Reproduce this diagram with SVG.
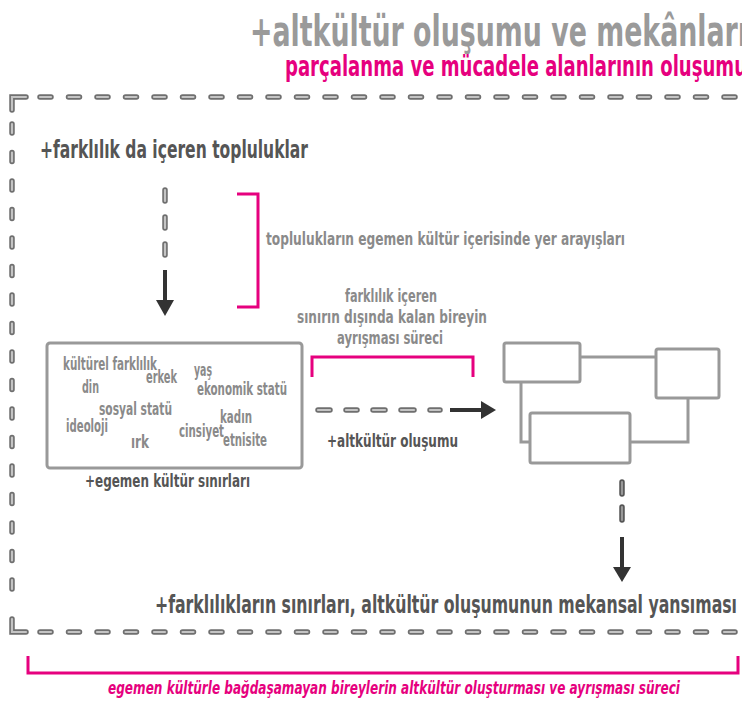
<svg xmlns="http://www.w3.org/2000/svg" width="742" height="705" viewBox="0 0 742 705">
<style>
text{font-family:"DejaVu Sans Condensed","Liberation Sans Narrow","Liberation Sans",sans-serif;font-weight:bold;font-stretch:condensed}
.g{fill:#9a9a9a}
.w{fill:#8a8a8a}
.d{fill:#555}
.p{fill:#e6007e}
.po{fill:none;stroke:#6f6f6f;stroke-width:5.5;stroke-linecap:round}
.pi{fill:none;stroke:#c4c4c4;stroke-width:2.2;stroke-linecap:round}
.pk{fill:none;stroke:#e6007e;stroke-width:3}
.box{fill:none;stroke:#999;stroke-width:3}
.arr{stroke:#333;stroke-width:4;fill:none}
.head{fill:#333}
</style>
<rect width="742" height="705" fill="#fff"/>
<g id="title">
<text class="g" x="250" y="46" font-size="42" textLength="497" lengthAdjust="spacingAndGlyphs">+altkültür oluşumu ve mekânları</text>
<text class="p" x="285" y="76" font-size="28" textLength="462" lengthAdjust="spacingAndGlyphs">parçalanma ve mücadele alanlarının oluşumu</text>
</g>
<g id="frame">
<path class="po" d="M12 110V97H26"/><path class="pi" d="M12 110V97H26"/>
<path class="po" d="M40 97H742" stroke-dasharray="11 17.5"/><path class="pi" d="M40 97H742" stroke-dasharray="11 17.5"/>
<path class="po" d="M12 124V606" stroke-dasharray="9 19.5"/><path class="pi" d="M12 124V606" stroke-dasharray="9 19.5"/>
<path class="po" d="M12 619V632H26"/><path class="pi" d="M12 619V632H26"/>
<path class="po" d="M40 632H742" stroke-dasharray="11 17.5"/><path class="pi" d="M40 632H742" stroke-dasharray="11 17.5"/>
</g>
<g id="n-topluluklar">
<text class="d" x="40" y="158" font-size="24" textLength="268" lengthAdjust="spacingAndGlyphs">+farklılık da içeren topluluklar</text>
</g>
<g id="n-arayis">
<path class="pk" d="M237 194H258V307H237"/>
<text class="w" x="266" y="245" font-size="17" textLength="359" lengthAdjust="spacingAndGlyphs">toplulukların egemen kültür içerisinde yer arayışları</text>
</g>
<g id="n-egemen">
<rect class="box" x="47" y="343" width="255" height="125" rx="3"/>
<text class="w" x="63" y="370" font-size="17" textLength="94" lengthAdjust="spacingAndGlyphs">kültürel farklılık</text>
<text class="w" x="146" y="383" font-size="17" textLength="31" lengthAdjust="spacingAndGlyphs">erkek</text>
<text class="w" x="194" y="376" font-size="17" textLength="18" lengthAdjust="spacingAndGlyphs">yaş</text>
<text class="w" x="82" y="393" font-size="17" textLength="17" lengthAdjust="spacingAndGlyphs">din</text>
<text class="w" x="197" y="395" font-size="17" textLength="90" lengthAdjust="spacingAndGlyphs">ekonomik statü</text>
<text class="w" x="99" y="415" font-size="17" textLength="73" lengthAdjust="spacingAndGlyphs">sosyal statü</text>
<text class="w" x="220" y="423" font-size="17" textLength="32" lengthAdjust="spacingAndGlyphs">kadın</text>
<text class="w" x="66" y="432" font-size="17" textLength="42" lengthAdjust="spacingAndGlyphs">ideoloji</text>
<text class="w" x="179" y="437" font-size="17" textLength="45" lengthAdjust="spacingAndGlyphs">cinsiyet</text>
<text class="w" x="223" y="446" font-size="17" textLength="44" lengthAdjust="spacingAndGlyphs">etnisite</text>
<text class="w" x="131" y="448" font-size="17" textLength="18" lengthAdjust="spacingAndGlyphs">ırk</text>
<text class="d" x="85" y="487" font-size="18" textLength="165" lengthAdjust="spacingAndGlyphs">+egemen kültür sınırları</text>
</g>
<g id="n-ayrisma">
<text class="w" x="391" y="302" font-size="18" text-anchor="middle" textLength="92" lengthAdjust="spacingAndGlyphs">farklılık içeren</text>
<text class="w" x="392" y="323" font-size="18" text-anchor="middle" textLength="190" lengthAdjust="spacingAndGlyphs">sınırın dışında kalan bireyin</text>
<text class="w" x="390" y="344" font-size="18" text-anchor="middle" textLength="106" lengthAdjust="spacingAndGlyphs">ayrışması süreci</text>
<path class="pk" d="M312 377V357H473V377"/>
</g>
<g id="n-altkultur">
<rect class="box" x="504" y="343" width="76" height="39" rx="2"/>
<rect class="box" x="656" y="349" width="63" height="49" rx="2"/>
<rect class="box" x="530" y="413" width="100" height="50" rx="2"/>
<path class="box" d="M580 357H656M521 382V442H530M688 398V442H630"/>
<text class="d" x="327" y="447" font-size="18" textLength="131" lengthAdjust="spacingAndGlyphs">+altkültür oluşumu</text>
</g>
<g id="n-mekansal">
<text class="d" x="155" y="613" font-size="24" textLength="582" lengthAdjust="spacingAndGlyphs">+farklılıkların sınırları, altkültür oluşumunun mekansal yansıması</text>
</g>
<g id="n-surec">
<path class="pk" d="M28 656V673H738V656"/>
<text class="p" x="108" y="694" font-size="17" font-style="italic" textLength="572" lengthAdjust="spacingAndGlyphs">egemen kültürle bağdaşamayan bireylerin altkültür oluşturması ve ayrışması süreci</text>
</g>
<g id="connectors">
<path class="po" d="M165 190V201M165 217V228M165 244V255"/><path class="pi" d="M165 190V201M165 217V228M165 244V255"/>
<path class="arr" d="M165 270V302"/><polygon class="head" points="156,300 174,300 165,316"/>
<path class="po" d="M318 410H330M346 410H357M373 410H385M401 410H414M430 410H440"/><path class="pi" d="M318 410H330M346 410H357M373 410H385M401 410H414M430 410H440"/>
<path class="arr" d="M450 410H484"/><polygon class="head" points="481,401 481,419 496,410"/>
<path class="po" d="M622 482V494M622 507V520" style="stroke:#555"/><path class="pi" d="M622 482V494M622 507V520" style="stroke:#999"/>
<path class="arr" d="M622 537V570"/><polygon class="head" points="613,567 631,567 622,582"/>
</g>
</svg>
